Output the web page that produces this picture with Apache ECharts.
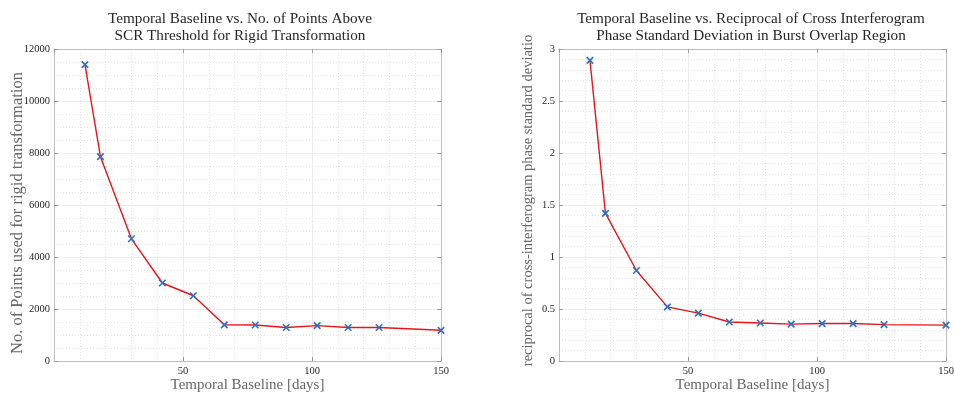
<!DOCTYPE html>
<html>
<head>
<meta charset="utf-8">
<title>Temporal Baseline</title>
<script src="https://cdn.jsdelivr.net/npm/echarts@6/dist/echarts.min.js"></script>
<style>
  html, body { margin: 0; padding: 0; background: #ffffff; }
  #chart { width: 954px; height: 394px; }
</style>
</head>
<body>
<div id="chart"></div>
<script>
// Temporal baselines (days) shared by both panels
const baselineDays = [12, 18, 30, 42, 54, 66, 78, 90, 102, 114, 126, 150];
// Number of points above the SCR threshold used for the rigid transformation
const rigidPoints = [11400, 7860, 4700, 3000, 2510, 1390, 1385, 1290, 1360, 1290, 1290, 1180];
// Reciprocal of the cross-interferogram phase standard deviation (burst overlap)
const reciprocalStd = [2.89, 1.42, 0.87, 0.52, 0.46, 0.375, 0.365, 0.355, 0.36, 0.36, 0.35, 0.345];

const xTicks = [50, 100, 150];

const SERIF = '"Liberation Serif", "DejaVu Serif", serif';
const RED = '#e8141b';
const BLUE = '#2e6fc0';
const BOX = '#bdbdbd';
const CROSS = 'path://M0,0L10,10M10,0L0,10';

const pairs = (xs, ys) => xs.map((x, i) => [x, ys[i]]);

const chart = echarts.init(document.getElementById('chart'), null, { renderer: 'canvas' });

function mainX(gridIndex) {
  return {
    type: 'value', gridIndex, min: 0, max: 150, interval: 50,
    name: 'Temporal Baseline [days]', nameLocation: 'middle', nameGap: 17, nameMoveOverlap: false,
    nameTextStyle: { fontFamily: SERIF, fontSize: 15, color: '#666666' },
    axisLine: { show: true, onZero: false, lineStyle: { color: BOX, width: 1 } },
    axisTick: { show: true, inside: true, length: 4, lineStyle: { color: '#9a9a9a' } },
    minorTick: { show: false, splitNumber: 5 },
    axisLabel: {
      show: true, showMinLabel: false, margin: 5,
      fontFamily: SERIF, fontSize: 10.5, color: '#262626',
      formatter: v => (xTicks.indexOf(v) >= 0 ? String(v) : '')
    },
    splitLine: { show: true, lineStyle: { color: '#ececec', width: 1 } },
    minorSplitLine: { show: true, lineStyle: { color: '#e4e4e4', width: 1, type: [1, 2] } }
  };
}
function topX(gridIndex) {
  return {
    type: 'value', gridIndex, position: 'top', min: 0, max: 150, interval: 50,
    axisLine: { show: true, onZero: false, lineStyle: { color: BOX, width: 1 } },
    axisTick: { show: true, inside: true, length: 4, lineStyle: { color: '#9a9a9a' } },
    axisLabel: { show: false }, splitLine: { show: false }
  };
}
function mainY(gridIndex, max, interval, minorSplit, name, nameSize, gap, pad) {
  return {
    type: 'value', gridIndex, min: 0, max, interval,
    name, nameLocation: 'middle', nameGap: gap, nameMoveOverlap: false,
    nameTextStyle: { fontFamily: SERIF, fontSize: nameSize, color: '#666666', padding: pad },
    axisLine: { show: true, onZero: false, lineStyle: { color: BOX, width: 1 } },
    axisTick: { show: true, inside: true, length: 4, lineStyle: { color: '#9a9a9a' } },
    minorTick: { show: false, splitNumber: minorSplit },
    axisLabel: { show: true, margin: 4, fontFamily: SERIF, fontSize: 10.5, color: '#262626', formatter: v => String(v) },
    splitLine: { show: true, lineStyle: { color: '#ececec', width: 1 } },
    minorSplitLine: { show: true, lineStyle: { color: '#e4e4e4', width: 1, type: [1, 2] } }
  };
}
function rightY(gridIndex, max, interval) {
  return {
    type: 'value', gridIndex, position: 'right', min: 0, max, interval,
    axisLine: { show: true, onZero: false, lineStyle: { color: BOX, width: 1 } },
    axisTick: { show: true, inside: true, length: 4, lineStyle: { color: '#9a9a9a' } },
    axisLabel: { show: false }, splitLine: { show: false }
  };
}
function curve(xAxisIndex, yAxisIndex, data) {
  return {
    type: 'line', xAxisIndex, yAxisIndex, data,
    showSymbol: true, symbol: CROSS, symbolSize: 6.5,
    lineStyle: { color: RED, width: 1.4 },
    itemStyle: { color: 'rgba(0,0,0,0)', borderColor: BLUE, borderWidth: 1.6 },
    emphasis: { disabled: true },
    animation: false, z: 3
  };
}

const titleStyle = { fontFamily: SERIF, fontSize: 15.2, fontWeight: 'normal', color: '#262626', lineHeight: 17 };

chart.setOption({
  backgroundColor: '#ffffff',
  animation: false,
  title: [
    {
      text: 'Temporal Baseline vs. No. of Points Above\nSCR Threshold for Rigid Transformation',
      left: 235, top: 6, textAlign: 'center', textStyle: titleStyle
    },
    {
      text: 'Temporal Baseline vs. Reciprocal of Cross Interferogram\nPhase Standard Deviation in Burst Overlap Region',
      left: 746, top: 6, textAlign: 'center', textStyle: titleStyle
    }
  ],
  grid: [
    { left: 54, right: 513, top: 49, bottom: 33, containLabel: false, outerBoundsMode: 'none' },
    { left: 559, right: 8, top: 49, bottom: 33, containLabel: false, outerBoundsMode: 'none' }
  ],
  xAxis: [mainX(0), topX(0), mainX(1), topX(1)],
  yAxis: [
    mainY(0, 12000, 2000, 4, 'No. of Points used for rigid transformation', 16.5, 28, [0, 16, 0, 0]),
    rightY(0, 12000, 2000),
    mainY(1, 3, 0.5, 5, 'reciprocal of cross-interferogram phase standard deviatio', 14.5, 23, [0, 0, 0, 9]),
    rightY(1, 3, 0.5)
  ],
  series: [
    curve(0, 0, pairs(baselineDays, rigidPoints)),
    curve(2, 2, pairs(baselineDays, reciprocalStd))
  ]
});
</script>
</body>
</html>
